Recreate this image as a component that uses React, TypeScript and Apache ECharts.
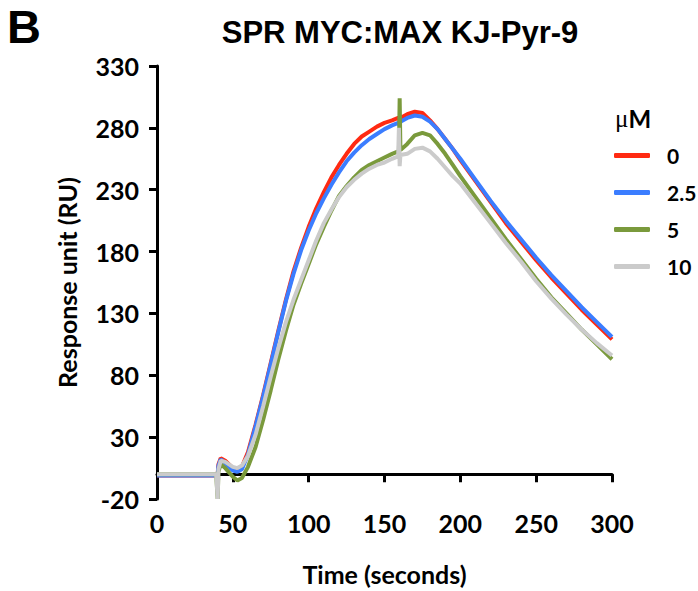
import React, { useEffect, useRef } from "react";
import * as echarts from "echarts";

const times = [0, 10, 20, 30, 39, 40, 40.5, 42, 45, 50, 53, 56, 60, 65, 70, 75, 80, 85, 90, 95, 100, 105, 110, 115, 120, 125, 130, 135, 140, 145, 150, 155, 159, 159.5, 160, 160.5, 165, 170, 175, 180, 185, 190, 195, 200, 210, 220, 230, 240, 250, 260, 270, 280, 290, 300];

const red0 = [-1, -1, -1, -1, -1, 0, 8, 13, 11, 5, 4, 6, 18, 40, 64, 90, 116, 141, 164, 183, 200, 215, 228, 240, 250, 259, 267, 273, 277, 281, 284, 286, 288, 288, 286, 288, 291, 293, 292, 286, 279, 271, 263, 254, 237, 220, 203, 188, 173, 159, 146, 133, 121, 109];
const blue25 = [-1, -1, -1, -1, -1, 0, 7, 12, 9, 3, 2, 4, 16, 39, 63, 89, 115, 140, 162, 181, 197, 211, 223, 234, 244, 253, 260, 266, 271, 275, 279, 282, 284, 284, 282, 285, 288, 290, 289, 285, 279, 271, 263, 255, 238, 221, 205, 190, 175, 161, 148, 135, 123, 111];
const green5 = [0, 0, 0, 0, 0, -20, 2, 8, 5, -2, -5, -3, 6, 22, 44, 68, 93, 116, 137, 154, 170, 186, 200, 213, 225, 233, 240, 246, 250, 253, 256, 259, 261, 262, 304, 262, 267, 274, 276, 274, 267, 259, 250, 241, 224, 207, 190, 174, 158, 143, 130, 117, 105, 93];
const gray10 = [0, 0, 0, 0, 0, -20, 4, 11, 10, 6, 5, 7, 15, 32, 55, 79, 102, 123, 141, 157, 173, 189, 203, 214, 224, 232, 238, 243, 247, 250, 252, 255, 257, 280, 249, 258, 259, 263, 264, 261, 255, 248, 241, 235, 219, 203, 187, 172, 156, 142, 129, 117, 106, 96];

const seriesNames = ["0", "2.5", "5", "10"];
const seriesColors = ["#ff2a12", "#3b7dff", "#7a9a3c", "#cbcbcb"];
const seriesValues = [red0, blue25, green5, gray10];

const titleText = "SPR MYC:MAX KJ-Pyr-9";
const panelLabel = "B";
const xName = "Time (seconds)";
const yName = "Response unit (RU)";

const labelFont = "Lato, 'Open Sans', sans-serif";
const titleFont = "'Liberation Sans', Arial, sans-serif";

export default function App() {
  const ref = useRef<HTMLDivElement>(null);
  useEffect(() => {
    if (!ref.current) return;
    const chart = echarts.init(ref.current, null, { renderer: "svg" });
    chart.setOption({
      animation: false,
      backgroundColor: "#ffffff",
      grid: { left: 157, right: 86, top: 66, bottom: 90, containLabel: false },
      xAxis: {
        type: "value",
        min: 0,
        max: 300,
        interval: 50,
        name: xName,
        nameLocation: "middle",
        nameGap: 62,
        nameTextStyle: { fontFamily: labelFont, fontWeight: "bold", fontSize: 25, color: "#000" },
        axisLine: { lineStyle: { color: "#000", width: 3 } },
        axisTick: { show: true, length: 8, lineStyle: { color: "#000", width: 3 } },
        axisLabel: { margin: 11, fontFamily: labelFont, fontWeight: "bold", fontSize: 25, color: "#000" },
        splitLine: { show: false },
      },
      yAxis: {
        type: "value",
        min: -20,
        max: 330,
        interval: 50,
        name: yName,
        nameLocation: "middle",
        nameGap: 78,
        nameRotate: 90,
        nameTextStyle: { fontFamily: labelFont, fontWeight: "bold", fontSize: 25, color: "#000" },
        axisLine: { show: true, lineStyle: { color: "#000", width: 3 } },
        axisTick: { show: true, length: 8, lineStyle: { color: "#000", width: 3 } },
        axisLabel: { margin: 18, fontFamily: labelFont, fontWeight: "bold", fontSize: 25, color: "#000" },
        splitLine: { show: false },
      },
      legend: {
        orient: "vertical",
        left: 609,
        top: 140,
        itemWidth: 36,
        itemHeight: 5,
        itemGap: 16,
        icon: "roundRect",
        data: seriesNames,
        textStyle: { fontFamily: labelFont, fontWeight: "bold", fontSize: 21, color: "#000", padding: [0, 0, 0, 12] },
      },
      graphic: [
        {
          type: "text",
          left: 7,
          top: 3,
          style: { text: panelLabel, fontFamily: titleFont, fontWeight: "bold", fontSize: 47, fill: "#000" },
        },
        {
          type: "text",
          x: 400,
          y: 17,
          style: { text: titleText, textAlign: "center", fontFamily: titleFont, fontWeight: "bold", fontSize: 31, fill: "#000" },
        },
        {
          type: "text",
          x: 615,
          y: 106,
          style: {
            text: "{a|μ}{b|M}",
            rich: {
              a: { fontFamily: "'Liberation Serif', serif", fontSize: 25, fill: "#000" },
              b: { fontFamily: labelFont, fontWeight: "bold", fontSize: 24, fill: "#000" },
            },
          },
        },
      ],
      series: seriesNames.map((name, i) => ({
        name,
        type: "line",
        showSymbol: false,
        symbol: "none",
        data: times.map((t, j) => [t, seriesValues[i][j]]),
        lineStyle: { color: seriesColors[i], width: 4 },
        itemStyle: { color: seriesColors[i] },
        z: 2 + i,
      })),
    });
    return () => chart.dispose();
  }, []);
  return <div ref={ref} style={{ position: "fixed", left: 0, top: 0, width: 698, height: 591 }} />;
}
